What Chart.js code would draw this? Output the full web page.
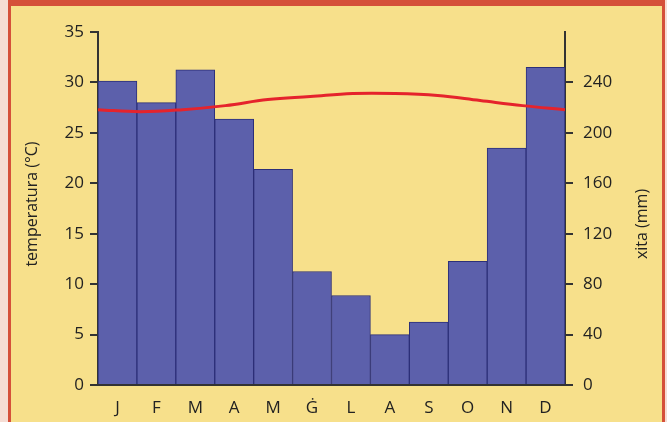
<!DOCTYPE html>
<html>
<head>
<meta charset="utf-8">
<script src="https://cdn.jsdelivr.net/npm/chart.js@4"></script>
<style>
  html, body { margin: 0; padding: 0; }
  body { width: 667px; height: 422px; background: #f6ddd4; position: relative; overflow: hidden; }
  #frame {
    position: absolute; left: 8px; top: 0; width: 651px; height: 440px;
    background: #f7e08b;
    border-top: 6px solid #d5503a; border-left: 3px solid #d5503a; border-right: 3px solid #d5503a;
  }
  #wrap { position: absolute; left: 0; top: 0; width: 667px; height: 422px; }
</style>
</head>
<body>
<div id="frame"></div>
<div id="wrap"><canvas id="myChart" width="667" height="422"></canvas></div>
<script>
const months = ['J', 'F', 'M', 'A', 'M', 'Ġ', 'L', 'A', 'S', 'O', 'N', 'D'];
const rain = [241, 224, 250, 211, 171, 90, 71, 40, 50, 98, 188, 252];
const temperature = [27.3, 27.1, 27.3, 27.7, 28.3, 28.6, 28.9, 28.9, 28.7, 28.2, 27.7, 27.3];
const tempTitle = 'temperatura (°C)';
const rainTitle = 'xita (mm)';

const axisColor = '#333333';
const font = { family: 'Open Sans', size: 17 };

// axis titles, both read bottom-to-top
const titles = {
  id: 'titles',
  afterDraw(chart) {
    const { ctx } = chart;
    [[tempTitle, 32, 204], [rainTitle, 642, 224]].forEach(([text, x, y]) => {
      ctx.save();
      ctx.fillStyle = '#222';
      ctx.font = '16px "Open Sans"';
      ctx.textAlign = 'center';
      ctx.textBaseline = 'middle';
      ctx.translate(x, y);
      ctx.rotate(-Math.PI / 2);
      ctx.fillText(text, 0, 0);
      ctx.restore();
    });
  },
};

const chartConfig = {
  type: 'bar',
  data: {
    labels: months,
    datasets: [
      {
        type: 'line',
        data: temperature,
        xAxisID: 'xl',
        yAxisID: 'y',
        borderColor: '#e5232c',
        borderWidth: 3,
        pointRadius: 0,
        tension: 0.4,
        order: 0,
      },
      {
        type: 'bar',
        data: rain,
        xAxisID: 'x',
        yAxisID: 'y1',
        backgroundColor: '#5c60ab',
        borderColor: '#2c2f78',
        borderWidth: 1,
        grouped: false,
        categoryPercentage: 1,
        barPercentage: 1,
        order: 1,
      },
    ],
  },
  options: {
    responsive: false,
    animation: false,
    layout: { padding: { top: 32, left: 0, right: 0, bottom: 0 } },
    plugins: { legend: { display: false }, tooltip: { enabled: false } },
    scales: {
      x: {
        offset: true,
        grid: { drawOnChartArea: false, drawTicks: false },
        border: { display: true, color: axisColor, width: 2 },
        ticks: { color: '#222', font, padding: 13 },
        afterFit: (s) => { s.height = 37; },
      },
      xl: {
        type: 'category',
        labels: months,
        offset: false,
        display: false,
      },
      y: {
        position: 'left',
        min: 0,
        max: 35,
        ticks: { stepSize: 5, color: '#222', font, padding: 6 },
        grid: { drawOnChartArea: false, tickLength: 8, color: axisColor, lineWidth: 2 },
        border: { display: true, color: axisColor, width: 2 },
        afterFit: (s) => { s.width = 98; },
      },
      y1: {
        position: 'right',
        min: 0,
        max: 280,
        ticks: {
          stepSize: 40,
          color: '#222',
          font,
          padding: 10,
          callback: (v) => (v === 280 ? '' : v),
        },
        grid: {
          drawOnChartArea: false,
          tickLength: 8,
          lineWidth: 2,
          color: (c) => (c.tick && c.tick.value === 280 ? 'rgba(0,0,0,0)' : axisColor),
        },
        border: { display: true, color: axisColor, width: 2 },
        afterFit: (s) => { s.width = 102; },
      },
    },
  },
  plugins: [titles],
};

const ctx = document.getElementById('myChart').getContext('2d');
const chart = new Chart(ctx, chartConfig);
</script>
</body>
</html>
